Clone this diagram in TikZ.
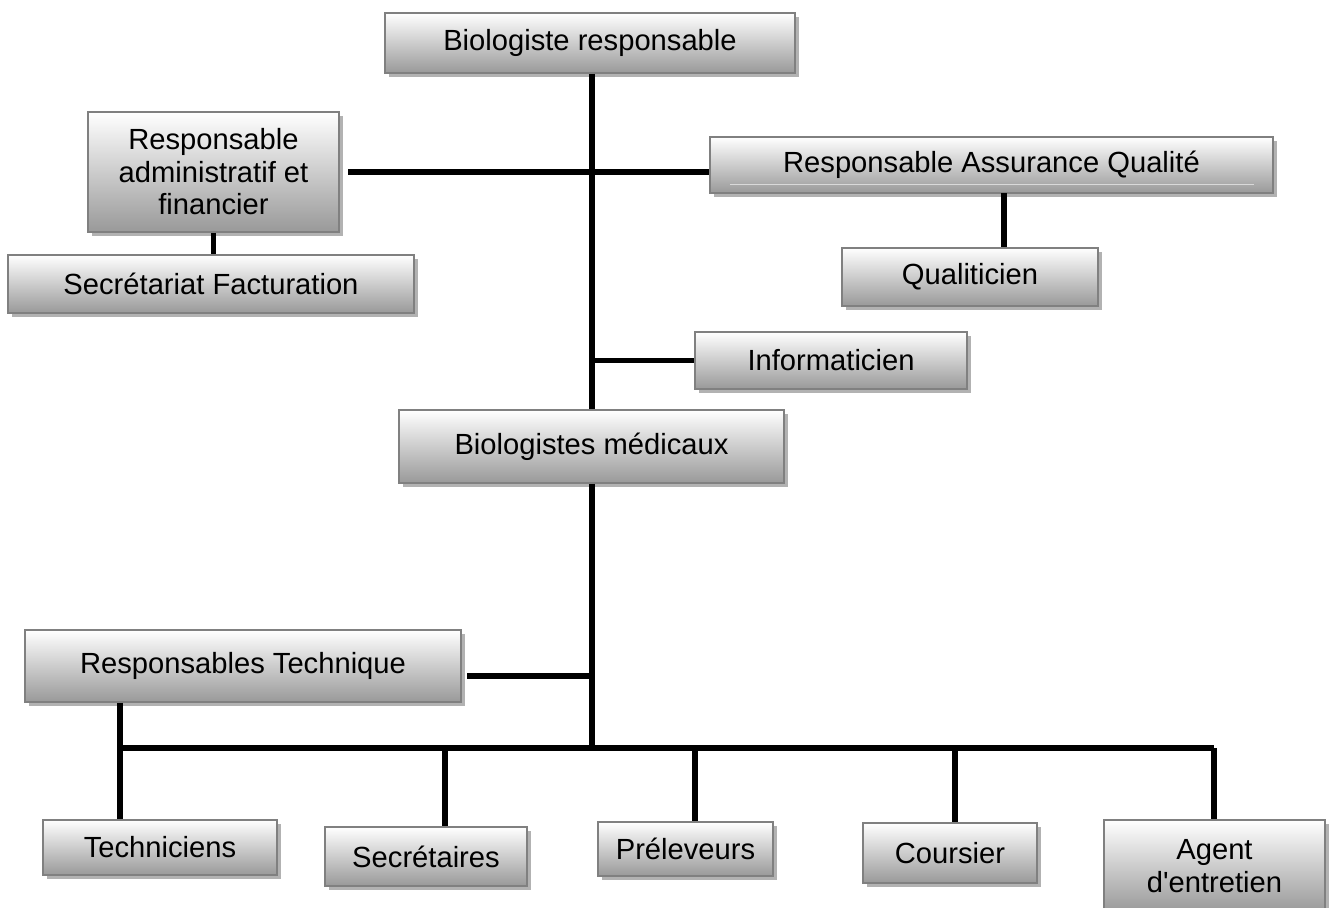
\documentclass[tikz,border=0pt]{standalone}
\usepackage{fontspec}
\setmainfont{Liberation Sans}
\usepackage{tikz}
\usetikzlibrary{shadows}

\tikzset{
  orgbox/.style={draw=black!50, line width=1.1pt, top color=white, bottom color=black!40,
    inner sep=0pt, align=center, font=\fontsize{16.6}{18.5}\selectfont,
    drop shadow={shadow xshift=0.08cm, shadow yshift=-0.08cm, fill=black!30, opacity=1}},
  link/.style={line width=3.4pt}
}

\begin{document}
\begin{tikzpicture}[x=0.02cm, y=-0.02cm]
\useasboundingbox (0,0) rectangle (1330,907);
\clip (0,0) rectangle (1330,907);

% boxes
\node[orgbox, minimum width=8.2cm, minimum height=1.2cm] (bioresp) at (590,43) {Biologiste responsable};
\node[orgbox, minimum width=5.02cm, minimum height=2.4cm] (admin) at (213.5,172) {Responsable\\administratif et\\financier};
\node[orgbox, minimum width=8.12cm, minimum height=1.16cm] (secfact) at (211,284) {Secrétariat Facturation};
\node[orgbox, minimum width=11.26cm, minimum height=1.12cm] (rqa) at (991.5,165) {Responsable Assurance Qualité};
\draw[white!85!black, line width=0.5pt] (730,184) -- (1254,184);
\node[orgbox, minimum width=5.12cm, minimum height=1.16cm] (qualit) at (970,277) {Qualiticien};
\node[orgbox, minimum width=5.44cm, minimum height=1.14cm] (info) at (831,360.5) {Informaticien};
\node[orgbox, minimum width=7.7cm, minimum height=1.46cm] (biomed) at (591.5,446.5) {Biologistes médicaux};
\node[orgbox, minimum width=8.72cm, minimum height=1.44cm] (resptech) at (243,666) {Responsables Technique};

\node[orgbox, minimum width=4.68cm, minimum height=1.1cm] (tech) at (160,847.5) {Techniciens};
\node[orgbox, minimum width=4.04cm, minimum height=1.18cm] (secr) at (426,856.5) {Secrétaires};
\node[orgbox, minimum width=3.5cm, minimum height=1.08cm] (prel) at (685.5,849) {Préleveurs};
\node[orgbox, minimum width=3.48cm, minimum height=1.2cm] (cours) at (950,853) {Coursier};
\node[orgbox, minimum width=4.42cm, minimum height=1.84cm] (agent) at (1214.5,866) {Agent\\d\textquotesingle entretien};

% junctions
\coordinate (spine) at (592,172);
\coordinate (adminend) at (348,172);
\coordinate (rqadrop) at (1004,193);
\coordinate (techend) at (467,676);
\coordinate (hub) at (592,748);
\coordinate (left) at (120,748);
\coordinate (right) at (1214,748);

% links
\draw[link] (spine |- bioresp.south) -- (spine |- biomed.north);
\draw[link] (adminend) -- (adminend -| rqa.west);
\draw[link] (admin.south) -- (admin.south |- secfact.north);
\draw[link] (rqadrop) -- (rqadrop |- qualit.north);
\draw[link] (spine |- info.west) -- (info.west);
\draw[link] (spine |- biomed.south) -- (hub);
\draw[link] (techend) -- (techend -| hub);
\draw[link] (left) -- (right);
\draw[link] (left |- resptech.south) -- (left |- tech.north);
\draw[link] (445,748) -- (445,748 |- secr.north);
\draw[link] (695,748) -- (695,748 |- prel.north);
\draw[link] (955,748) -- (955,748 |- cours.north);
\draw[link] (right) -- (right |- agent.north);
\end{tikzpicture}
\end{document}
